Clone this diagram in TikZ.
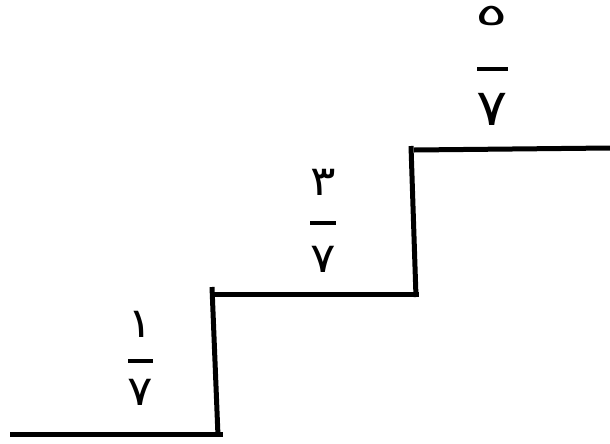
\documentclass[tikz,border=0pt]{standalone}
\usepackage{fontspec}
\newfontfamily\arabicfont[Script=Arabic]{DejaVu Sans}
\TeXXeTstate=1
\begin{document}
\begin{tikzpicture}[x=0.75pt,y=-0.75pt,
  stair/.style={line width=3.75pt,line cap=butt},
  fbar/.style={line width=3pt},
  digit/.style={inner sep=0pt,anchor=base,xscale=1.15,font=\arabicfont\fontsize{31}{36}\selectfont},
  bigdigit/.style={digit,font=\arabicfont\fontsize{38}{44}\selectfont},
  fivedigit/.style={digit,xscale=1.75,text height=13pt,font=\arabicfont\fontsize{22.5}{26}\selectfont}]
\useasboundingbox (0,0) rectangle (610,443);
% staircase
\draw[stair] (10,434) -- (223,434);
\draw[stair] (212,287) -- (218,436);
\draw[stair] (214,294) -- (419,294);
\draw[stair] (411,146) -- (416,297);
\draw[stair] (414,150) -- (610,148);
% fraction 1/7
\node[digit] (n1) at (140,337) {١};
\draw[fbar] (128,361) -- (153,361);
\node[digit] (d1) at (140,405) {٧};
% fraction 3/7
\node[digit] (n2) at (323,195) {٣};
\draw[fbar] (310,223) -- (336,223);
\node[digit] (d2) at (323,272) {٧};
% fraction 5/7
\node[fivedigit] (n3) at (492,25) {٥};
\draw[fbar] (477,69) -- (508,69);
\node[bigdigit] (d3) at (492,125) {٧};
\end{tikzpicture}
\end{document}
